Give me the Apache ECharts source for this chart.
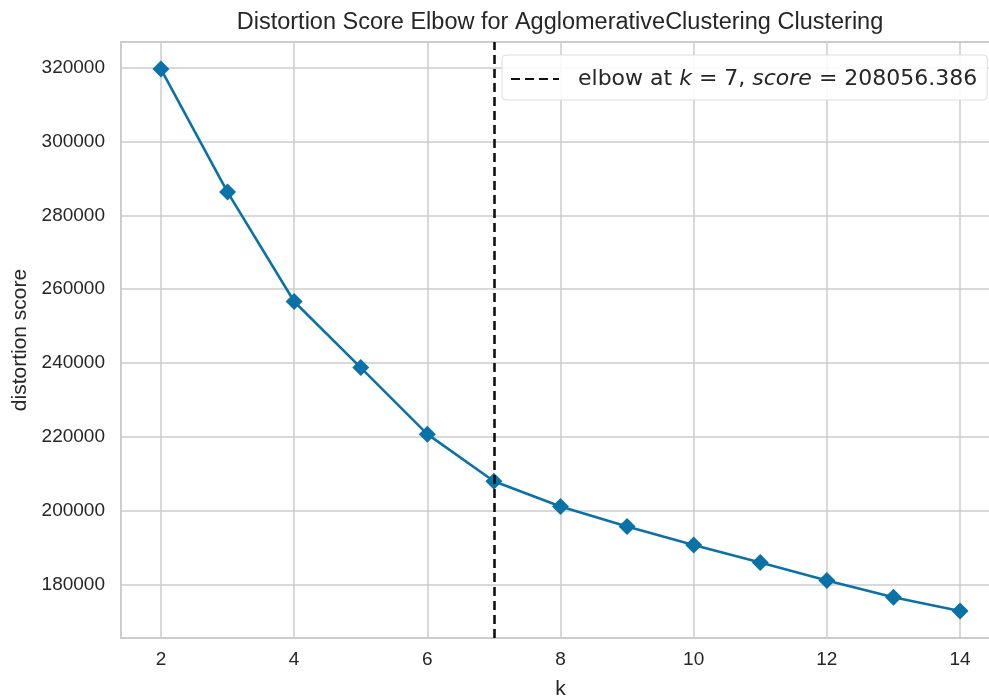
<!DOCTYPE html>
<html><head><meta charset="utf-8">
<script src="https://cdn.jsdelivr.net/npm/echarts@6/dist/echarts.min.js"></script>
<style>html,body{margin:0;padding:0;background:#fff}#c{width:989px;height:698px}</style>
</head><body><div id="c"></div>
<script>
const kValues = [2, 3, 4, 5, 6, 7, 8, 9, 10, 11, 12, 13, 14];
const distortionScores = [319567, 286280, 256670, 238810, 220785, 208056.386, 201190, 195778, 190825, 186035, 181164, 176671, 172963];
const elbowK = 7;
const elbowScore = 208056.386;
const xTicks = [2, 4, 6, 8, 10, 12, 14];
const yTicks = [180000, 200000, 220000, 240000, 260000, 280000, 300000, 320000];
const titleText = 'Distortion Score Elbow for AgglomerativeClustering Clustering';
const xLabel = 'k';
const yLabel = 'distortion score';

// matplotlib-style 5% auto margins
const xMinD = Math.min(...kValues), xMaxD = Math.max(...kValues);
const yMinD = Math.min(...distortionScores), yMaxD = Math.max(...distortionScores);
const xPad = (xMaxD - xMinD) * 0.05, yPad = (yMaxD - yMinD) * 0.05;

const lineColor = '#0b72a8';
const gridColor = '#cccccc';
const textColor = '#262626';
const sans = 'Liberation Sans, Arial, sans-serif';

const chart = echarts.init(document.getElementById('c'), null, {renderer: 'canvas'});
chart.setOption({
  animation: false,
  backgroundColor: '#ffffff',
  title: {
    text: titleText, left: 560, textAlign: 'center', top: 11, padding: 0,
    textStyle: {fontFamily: sans, fontSize: 23.5, fontWeight: 'normal', color: textColor}
  },
  grid: {left: 121, right: -11, top: 42, bottom: 60, outerBoundsMode: 'none', containLabel: false,
         show: true, borderColor: gridColor, borderWidth: 1.8, backgroundColor: 'transparent'},
  legend: {
    data: ['elbow'], left: 502, top: 55, orient: 'horizontal',
    backgroundColor: 'rgba(255,255,255,0.85)', borderColor: '#dddddd', borderWidth: 1, borderRadius: 4,
    padding: [13, 10, 10, 8], itemWidth: 48, itemHeight: 14,
    itemStyle: {color: 'rgba(0,0,0,0)', borderWidth: 0, opacity: 0},
    formatter: function () {
      return '{f|elbow at }{i|k}{n| = ' + elbowK + ', }{i|score}{n| = ' + elbowScore.toFixed(3) + '}';
    },
    textStyle: {
      fontFamily: 'DejaVu Sans', fontSize: 22, color: textColor,
      rich: {
        f: {fontFamily: 'DejaVu Sans', fontSize: 22, color: textColor, padding: [0, 0, 0, 14]},
        n: {fontFamily: 'DejaVu Sans', fontSize: 22, color: textColor},
        i: {fontFamily: 'DejaVu Sans', fontSize: 22, color: textColor, fontStyle: 'italic'}
      }
    }
  },
  xAxis: {
    type: 'value', min: xMinD - xPad, max: xMaxD + xPad,
    name: xLabel, nameLocation: 'middle', nameGap: 41,
    nameTextStyle: {fontFamily: sans, fontSize: 21, color: textColor},
    axisLine: {show: true, onZero: false, lineStyle: {color: gridColor, width: 1.8}},
    axisTick: {show: false, customValues: xTicks},
    axisLabel: {customValues: xTicks, margin: 12, fontFamily: sans, fontSize: 19, color: textColor,
                formatter: v => String(v)},
    splitLine: {show: true, lineStyle: {color: gridColor, width: 1.5}}
  },
  yAxis: {
    type: 'value', min: yMinD - yPad, max: yMaxD + yPad,
    name: yLabel, nameLocation: 'middle', nameGap: 81,
    nameTextStyle: {fontFamily: sans, fontSize: 21, color: textColor},
    axisLine: {show: true, onZero: false, lineStyle: {color: gridColor, width: 1.8}},
    axisTick: {show: false, customValues: yTicks},
    axisLabel: {customValues: yTicks, margin: 16, fontFamily: sans, fontSize: 19, color: textColor,
                formatter: v => String(Math.round(v))},
    splitLine: {show: true, lineStyle: {color: gridColor, width: 1.5}}
  },
  series: [
    {
      name: 'distortion', type: 'line', z: 3,
      data: kValues.map((k, i) => [k, distortionScores[i]]),
      symbol: 'diamond', symbolSize: 17,
      lineStyle: {color: lineColor, width: 2.6},
      itemStyle: {color: lineColor}
    },
    {
      name: 'elbow', type: 'line', z: 4, data: [],
      symbol: 'none',
      lineStyle: {color: '#111111', width: 2.6, type: [9, 5]},
      itemStyle: {color: '#111111'},
      markLine: {
        silent: true, symbol: 'none', label: {show: false},
        lineStyle: {color: '#111111', width: 2.6, type: [9, 5]},
        data: [{xAxis: elbowK}]
      }
    }
  ]
});
</script>
</body></html>
